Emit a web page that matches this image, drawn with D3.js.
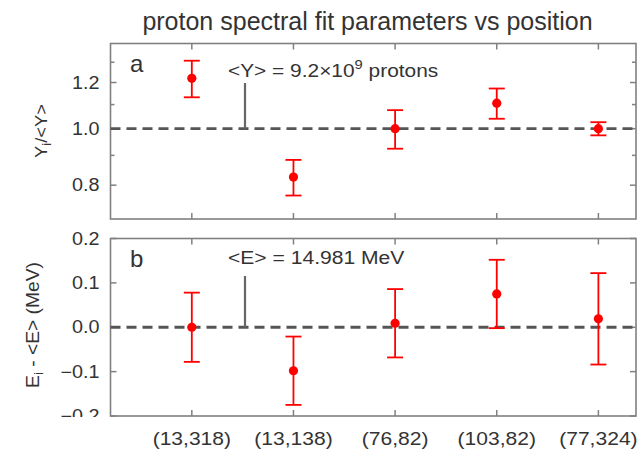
<!DOCTYPE html>
<html><head><meta charset="utf-8">
<script src="https://cdn.jsdelivr.net/npm/d3@7"></script>
<style>body{margin:0;background:#fff}svg{display:block}text{font-family:"Liberation Sans",Arial,sans-serif;fill:#333}</style>
</head><body>
<svg id="c" width="642" height="452"></svg>
<script>
const categories = ["(13,318)", "(13,138)", "(76,82)", "(103,82)", "(77,324)"];
const yieldRatio = [1.22, 0.826, 1.0, 1.106, 1.0];
const yieldErr = [0.088, 0.058, 0.076, 0.066, 0.026];
const energyDiff = [0.0, -0.098, 0.009, 0.075, 0.019];
const energyErr = [0.078, 0.077, 0.077, 0.077, 0.103];
const yTicksA = [0.8, 1.0, 1.2];
const yMinorA = [0.9, 1.1, 1.3];
const yTicksB = [-0.2, -0.1, 0.0, 0.1, 0.2];

const svg = d3.select("#c");
const L = 110.5, R = 636;
const x = d3.scaleLinear().domain([0.2, 5.37]).range([L, R]);
const idx = categories.map((d, i) => i + 1);
const ya = d3.scaleLog().domain([0.7, 1.4]).range([219, 43.5]);
const yb = d3.scaleLinear().domain([-0.2, 0.2]).range([416, 238.5]);
const frameCol = "#808080";
const fmt = d => (d < 0 ? "\u2212" : "") + Math.abs(d).toFixed(1);

// stretched text helper
function stext(parent, px, py, anchor, size, k, rot) {
  const g = parent.append("g").attr("transform", `translate(${px},${py})` + (rot ? ` rotate(${rot})` : "") + ` scale(${k},1)`);
  return g.append("text").attr("x", 0).attr("y", 0).attr("text-anchor", anchor).attr("font-size", size);
}

function panel(y, top, bot, ticks, minor, vals, errs, ref, labelClip, cid) {
  const g = svg.append("g");
  const tl = 6, tm = 4;
  const tick = (x1, x2, y1, y2) => g.append("line").attr("x1", x1).attr("x2", x2).attr("y1", y1).attr("y2", y2).attr("stroke", frameCol).attr("stroke-width", 1.5);
  ticks.forEach(t => { tick(L, L + tl, y(t), y(t)); tick(R - tl, R, y(t), y(t)); });
  minor.forEach(t => { tick(L, L + tm, y(t), y(t)); tick(R - tm, R, y(t), y(t)); });
  idx.forEach(i => { tick(x(i), x(i), top, top + 6); tick(x(i), x(i), bot, bot - 6); });
  g.append("rect").attr("x", L).attr("y", top).attr("width", R - L).attr("height", bot - top)
    .attr("fill", "none").attr("stroke", frameCol).attr("stroke-width", 1.6);
  const lg = svg.append("g");
  if (labelClip) {
    svg.append("clipPath").attr("id", cid).append("rect").attr("x", 0).attr("y", 0).attr("width", 110).attr("height", labelClip);
    lg.attr("clip-path", `url(#${cid})`);
  }
  ticks.forEach(t => { stext(lg, 99.5, y(t) + 6.2, "end", 17.5, 1.13).text(fmt(t)); });
  g.append("line").attr("x1", L).attr("x2", R).attr("y1", y(ref)).attr("y2", y(ref))
    .attr("stroke", "#555").attr("stroke-width", 2.8).attr("stroke-dasharray", "10,6");
  vals.forEach((v, i) => {
    const cx = x(i + 1), e = errs[i];
    const eg = g.append("g").attr("stroke", "#ff0000").attr("stroke-width", 1.8);
    eg.append("line").attr("x1", cx).attr("x2", cx).attr("y1", y(v + e)).attr("y2", y(v - e));
    eg.append("line").attr("x1", cx - 8).attr("x2", cx + 8).attr("y1", y(v + e)).attr("y2", y(v + e));
    eg.append("line").attr("x1", cx - 8).attr("x2", cx + 8).attr("y1", y(v - e)).attr("y2", y(v - e));
    g.append("circle").attr("cx", cx).attr("cy", y(v)).attr("r", 4.6).attr("fill", "#ff0000");
  });
}

panel(ya, 43.5, 219, yTicksA, yMinorA, yieldRatio, yieldErr, 1.0, null, "ca");
panel(yb, 238.5, 416, yTicksB, [], energyDiff, energyErr, 0.0, 417, "cb");

// annotation lines
svg.append("line").attr("x1", 245).attr("x2", 245).attr("y1", 83).attr("y2", ya(1.0)).attr("stroke", "#666").attr("stroke-width", 2.2);
svg.append("line").attr("x1", 245).attr("x2", 245).attr("y1", 276).attr("y2", yb(0)).attr("stroke", "#666").attr("stroke-width", 2.2);

// annotation text
const ta = stext(svg, 228, 77, "start", 18.5, 1.13);
ta.append("tspan").text("<Y> = 9.2\u00d710");
ta.append("tspan").attr("font-size", 13).attr("dy", -8).text("9");
ta.append("tspan").attr("dy", 8).text(" protons");
stext(svg, 228, 264, "start", 18.5, 1.14).text("<E> = 14.981 MeV");

svg.append("text").attr("x", 130).attr("y", 72).attr("font-size", 24).text("a");
svg.append("text").attr("x", 130).attr("y", 267).attr("font-size", 24).text("b");

// x category labels
categories.forEach((c, i) => { stext(svg, x(i + 1), 445, "middle", 18, 1.17).text(c); });

// title
svg.append("text").attr("x", 367.5).attr("y", 30).attr("text-anchor", "middle").attr("font-size", 25).text("proton spectral fit parameters vs position");

// y labels
const yl1 = stext(svg, 47, 131, "middle", 17, 1.08, -90);
yl1.append("tspan").text("Y");
yl1.append("tspan").attr("font-size", 12).attr("dy", 4).text("i");
yl1.append("tspan").attr("dy", -4).text("/<Y>");
const yl2 = stext(svg, 39, 325, "middle", 17.5, 1.1, -90);
yl2.append("tspan").text("E");
yl2.append("tspan").attr("font-size", 12).attr("dy", 4).text("i");
yl2.append("tspan").attr("dy", -4).text(" - <E> (MeV)");
</script>
</body></html>
